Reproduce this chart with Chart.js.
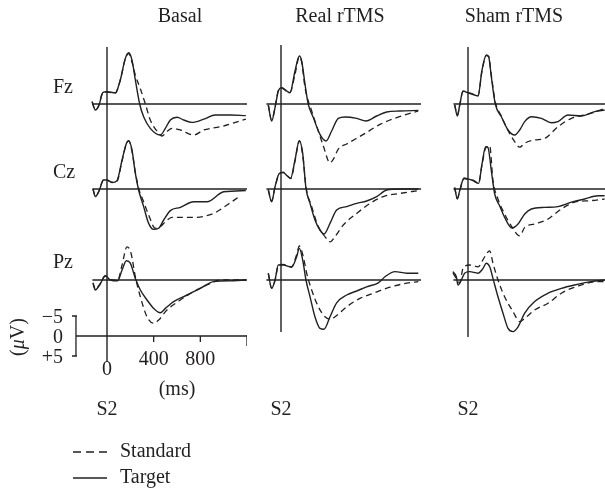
<!DOCTYPE html>
<html><head><meta charset="utf-8">
<script src="https://cdn.jsdelivr.net/npm/chart.js@4.4.0/dist/chart.umd.min.js"></script>
<style>
html,body{margin:0;padding:0;background:#fff;width:605px;height:490px;overflow:hidden;position:relative;}
.t{position:absolute;font-family:"Liberation Serif","Times New Roman",serif;font-size:20px;line-height:20px;color:#231f20;white-space:nowrap;}
canvas{position:absolute;}
</style></head><body>
<canvas id="c0" width="175" height="330" style="left:72px;top:40px"></canvas>
<canvas id="c1" width="175" height="330" style="left:246px;top:40px"></canvas>
<canvas id="c2" width="175" height="330" style="left:433px;top:40px"></canvas>
<svg style="position:absolute;left:0;top:0" width="605" height="490">
  <line x1="73" y1="452" x2="107" y2="452" stroke="#231f20" stroke-width="1.3" stroke-dasharray="8 5"/>
  <line x1="73" y1="478" x2="107" y2="478" stroke="#231f20" stroke-width="1.3"/>
</svg>
<script>
// ---------- data: [time (ms), amplitude (µV)] ----------
const conditions = ['Basal', 'Real rTMS', 'Sham rTMS'];
const electrodes = ['Fz', 'Cz', 'Pz'];
const stimulusLabel = 'S2';
const legendLabels = ['Standard', 'Target'];
const timeTicks = [0, 400, 800];
const uvTicks = [-5, 0, 5];
const uvTickLabels = ['\u22125', '0', '+5'];

const basalFzStd = [[-128,-0.5],[-100,1.4],[-71,0.4],[-34,-3.0],[0,-3.0],[71,-2.7],[114,-6],[157,-11.3],[186,-12.6],[214,-10.5],[243,-7.2],[286,-3.8],[329,0],[371,4],[443,7.3],[471,8],[514,6.9],[557,6.1],[629,6.5],[743,7.75],[829,6.5],[971,5.7],[1190,3.8]];
const basalFzTgt = [[-128,-0.6],[-100,1.5],[-71,0.5],[-34,-2.9],[0,-3.1],[71,-2.8],[114,-6],[157,-11.4],[186,-12.8],[214,-11],[243,-6],[280,0],[314,3.2],[371,6.1],[457,7.75],[500,6.1],[543,4],[600,3.3],[657,4],[729,4.6],[829,3.8],[929,2.75],[1057,2.75],[1190,2.9]];
const basalCzStd = [[-120,0],[-100,1.8],[-71,0.6],[-29,-2.3],[0,-2.2],[43,-1.7],[86,-2.0],[129,-7.0],[166,-11.3],[186,-12.0],[214,-9.5],[243,-4.2],[271,-0.2],[314,3.2],[357,6.5],[414,9.8],[457,9.4],[500,8.2],[557,7.1],[743,7.1],[914,6.1],[1029,4],[1143,1.7]];
const basalCzTgt = [[-120,0],[-100,1.9],[-71,0.7],[-29,-2.25],[0,-2.25],[43,-1.6],[86,-2.1],[129,-7.25],[166,-11.4],[186,-12.1],[214,-9.75],[243,-3.9],[271,0.25],[314,4.4],[357,8.6],[400,10.1],[443,9.8],[486,7.75],[543,5.4],[629,4.6],[743,3.2],[857,3.2],[1000,0.7],[1190,0.4]];
const basalPzStd = [[-120,0.7],[-100,2.3],[-63,1.1],[-14,-1.1],[29,-0.1],[91,0.1],[129,-3.75],[171,-8.3],[206,-6.7],[243,-0.8],[286,4.2],[343,9.2],[400,10.8],[443,10],[514,7.5],[629,5],[743,2.9],[857,1.25],[971,0],[1190,0]];
const basalPzTgt = [[-120,0.8],[-100,2.5],[-63,1.25],[-14,-1],[29,0],[91,0.2],[129,-2.5],[166,-4.8],[200,-4.2],[243,-0.4],[286,2.5],[343,5],[400,7.1],[457,8.2],[500,7.1],[571,5.4],[686,3.75],[800,2.1],[914,0.4],[1086,0.2],[1190,0]];

const realFzStd = [[-109,0.2],[-80,4.0],[-51,0.8],[-23,-3.4],[6,-4.0],[49,-3.1],[77,-2.9],[120,-7.4],[157,-11.8],[177,-10.5],[206,-4.1],[263,1.75],[320,6.75],[363,10.5],[420,14.7],[449,13.8],[491,11.3],[563,10],[706,7.6],[849,5.1],[991,3.4],[1177,1.75]];
const realFzTgt = [[-109,0.25],[-80,4.25],[-51,0.9],[-23,-3.25],[6,-4.1],[49,-3.25],[77,-2.8],[120,-8.25],[157,-12],[177,-10.75],[206,-4.9],[234,0.1],[277,3.4],[334,7.6],[386,9.25],[434,6.75],[491,3.6],[549,3.25],[649,3.6],[729,4.25],[820,3],[906,2],[1020,1.75],[1177,1.6]];
const realCzStd = [[-109,0.2],[-80,3.0],[-51,-0.5],[-14,-3.8],[20,-4.2],[54,-3.3],[83,-2.6],[120,-7.0],[157,-12.0],[186,-8.5],[214,-0.6],[263,4.4],[320,9.4],[377,11.9],[420,13.2],[463,11.9],[534,9],[649,6.1],[763,3.6],[877,1.9],[1020,1.1],[1177,0.4]];
const realCzTgt = [[-109,0.25],[-80,3.2],[-51,-0.6],[-14,-3.9],[20,-4.1],[54,-3.25],[83,-2.7],[120,-7.25],[157,-12.1],[186,-8.9],[214,-0.2],[249,3.6],[291,7.75],[334,10.25],[369,11.25],[420,8.6],[477,5.25],[563,4.4],[649,3.6],[734,3],[820,1.9],[906,0.25],[1020,0],[1177,0]];
const realPzStd = [[-109,-1.6],[-80,2.0],[-51,0.1],[-23,-3.6],[20,-3.9],[91,-3.3],[134,-6.3],[157,-8.5],[191,-5.8],[220,-1.7],[263,2.5],[320,6.7],[377,9.2],[420,9.8],[463,9.2],[563,6.7],[677,4.6],[791,3.3],[934,1.8],[1077,0.8],[1177,0.4]];
const realPzTgt = [[-109,-1.7],[-80,2.1],[-51,0],[-23,-3.75],[20,-3.75],[91,-3.2],[134,-5.8],[157,-7.9],[186,-5],[214,0],[249,4.2],[291,9.2],[334,12.1],[369,12.3],[420,9.2],[477,5.7],[563,3.75],[649,2.75],[734,1.7],[834,0.7],[891,-0.8],[977,-2.1],[1077,-1.7],[1177,-1.7]];

const shamFzStd = [[-114,0.2],[-91,2.8],[-71,0.3],[-43,-3.1],[0,-2.9],[57,-2.4],[86,-2.1],[120,-8.2],[157,-12.1],[177,-11.9],[200,-7.2],[234,-0.5],[286,3.0],[343,6.6],[400,9.4],[443,10.8],[486,9.8],[571,9],[657,8.6],[771,5.7],[886,3.6],[1057,2.3],[1171,1.1]];
const shamFzTgt = [[-114,0.25],[-91,3],[-71,0.25],[-43,-3.25],[0,-2.8],[57,-2.25],[86,-2],[120,-8.5],[157,-12.25],[177,-11.8],[200,-6.8],[234,0],[286,3.2],[343,6.5],[400,7.75],[443,6.5],[486,4.4],[543,3.2],[629,3.6],[714,4.7],[771,4.4],[857,2.75],[971,3],[1086,1.9],[1171,1.5]];
const shamCzStd = [[-114,-0.3],[-91,2.4],[-71,0.5],[-34,-2.6],[0,-2.4],[43,-2.2],[91,-1.5],[120,-6.0],[151,-10.2],[186,-10.8],[214,-2.1],[257,2.5],[314,6.25],[371,9.2],[443,11.7],[486,9.6],[571,8.75],[686,7.5],[800,5],[914,3.3],[1057,2.9],[1171,2.5]];
const shamCzTgt = [[-114,-0.4],[-91,2.5],[-71,0.4],[-34,-2.75],[0,-2.5],[43,-2.1],[91,-1.4],[120,-6.25],[151,-10.6],[171,-10.4],[200,-4.6],[229,1.25],[271,4.2],[314,7.1],[377,9.75],[429,8.75],[486,6.25],[543,5],[657,4.6],[771,4.4],[886,3.3],[1000,2.5],[1114,1.7],[1171,1.7]];
const shamPzStd = [[-129,-1.7],[-100,-0.4],[-71,0.7],[-43,-2.9],[14,-3.75],[86,-3.3],[143,-5.8],[186,-7.3],[214,-4.2],[257,0],[314,4.2],[386,7.9],[443,10.4],[486,9.6],[571,7.5],[686,5.8],[800,3.3],[943,1.5],[1114,0.4],[1171,0.4]];
const shamPzTgt = [[-129,-2.1],[-100,-0.8],[-86,1.25],[-57,0],[-29,-1.7],[14,-2.1],[86,-1.7],[129,-2.9],[157,-4.2],[186,-3.3],[214,-0.4],[257,4.2],[300,8.3],[343,12.1],[386,12.9],[429,11.7],[486,8.3],[571,5.4],[686,3.3],[800,2.1],[914,1.25],[1057,0.4],[1171,0]];

// ---------- layout / style ----------
const INK = '#231f20';
const timeMin = -300, timeMax = 1200, baselineStart = -125;
const canvasH = 330, pxPerUV = 4;
const rowZeroPx = { Fz: 64, Cz: 149, Pz: 240, Bar: 296 };
const canvasLeft = [72, 246, 433], canvasTop = 40;

function yScale(zeroPx) {
  return { type: 'linear', reverse: true, display: false,
           min: -zeroPx / pxPerUV, max: (canvasH - zeroPx) / pxPerUV };
}
function pts(arr) { return arr.map(p => ({ x: p[0], y: p[1] })); }

const columns = [
  { std: [basalFzStd, basalCzStd, basalPzStd], tgt: [basalFzTgt, basalCzTgt, basalPzTgt],
    zeroLine: { top: ['yFz', -14.25], bottom: ['yBar', 6.5] }, bar: true },
  { std: [realFzStd, realCzStd, realPzStd], tgt: [realFzTgt, realCzTgt, realPzTgt],
    zeroLine: { top: ['yFz', -14.75], bottom: ['yPz', 13] }, bar: false },
  { std: [shamFzStd, shamCzStd, shamPzStd], tgt: [shamFzTgt, shamCzTgt, shamPzTgt],
    zeroLine: { top: ['yFz', -14.25], bottom: ['yPz', 14.25] }, bar: false }
];
const scaleBar = { time: -266, end: 1200 };

const framePlugin = {
  id: 'frame',
  beforeDatasetsDraw(chart, args, o) {
    const ctx = chart.ctx, x = chart.scales.x;
    ctx.save();
    ctx.strokeStyle = INK;
    ctx.lineWidth = 1.4;
    electrodes.forEach(e => {
      const y = chart.scales['y' + e].getPixelForValue(0);
      ctx.beginPath();
      ctx.moveTo(x.getPixelForValue(baselineStart), y);
      ctx.lineTo(x.getPixelForValue(timeMax), y);
      ctx.stroke();
    });
    const zl = o.zeroLine;
    const x0 = x.getPixelForValue(0);
    ctx.beginPath();
    ctx.moveTo(x0, chart.scales[zl.top[0]].getPixelForValue(zl.top[1]));
    ctx.lineTo(x0, chart.scales[zl.bottom[0]].getPixelForValue(zl.bottom[1]));
    ctx.stroke();
    if (o.bar) {
      const yb = chart.scales.yBar;
      const xb = x.getPixelForValue(scaleBar.time);
      ctx.lineWidth = 1.3;
      ctx.beginPath();
      ctx.moveTo(xb, yb.getPixelForValue(uvTicks[0]));
      ctx.lineTo(xb, yb.getPixelForValue(uvTicks[2]));
      [uvTicks[0], uvTicks[2]].forEach(v => {
        const yy = yb.getPixelForValue(v);
        ctx.moveTo(xb - 4, yy); ctx.lineTo(xb + 1, yy);
      });
      const y0 = yb.getPixelForValue(0);
      ctx.moveTo(xb, y0); ctx.lineTo(x.getPixelForValue(scaleBar.end), y0);
      timeTicks.slice(1).forEach(t => {
        const xt = x.getPixelForValue(t);
        ctx.moveTo(xt, y0); ctx.lineTo(xt, y0 + 6);
      });
      const xe = x.getPixelForValue(scaleBar.end);
      ctx.moveTo(xe, y0 - 1); ctx.lineTo(xe, y0 + 10);
      ctx.stroke();
    }
    ctx.restore();
  }
};

const charts = columns.map((col, ci) => {
  const scales = { x: { type: 'linear', min: timeMin, max: timeMax, display: false } };
  electrodes.forEach(e => { scales['y' + e] = yScale(rowZeroPx[e]); });
  if (col.bar) scales.yBar = yScale(rowZeroPx.Bar);
  const datasets = [];
  electrodes.forEach((e, ri) => {
    datasets.push({ label: e + ' ' + legendLabels[0], data: pts(col.std[ri]), yAxisID: 'y' + e,
      borderColor: INK, borderWidth: 1.3, borderDash: [6, 4], pointRadius: 0,
      cubicInterpolationMode: 'monotone', fill: false });
    datasets.push({ label: e + ' ' + legendLabels[1], data: pts(col.tgt[ri]), yAxisID: 'y' + e,
      borderColor: INK, borderWidth: 1.4, pointRadius: 0,
      cubicInterpolationMode: 'monotone', fill: false });
  });
  return new Chart(document.getElementById('c' + ci), {
    type: 'line',
    data: { datasets },
    options: {
      responsive: false, devicePixelRatio: 1, animation: false,
      layout: { padding: 0 },
      scales,
      plugins: { legend: { display: false }, tooltip: { enabled: false },
                 frame: { zeroLine: col.zeroLine, bar: col.bar } }
    },
    plugins: [framePlugin]
  });
});

// ---------- text ----------
function txt(s, x, baseline, align, html) {
  const d = document.createElement('div');
  d.className = 't';
  if (html) d.innerHTML = s; else d.textContent = s;
  d.style.top = (baseline - 16.75) + 'px';
  if (align === 'center') { d.style.left = x + 'px'; d.style.transform = 'translateX(-50%)'; }
  else if (align === 'right') { d.style.right = (605 - x) + 'px'; }
  else d.style.left = x + 'px';
  document.body.appendChild(d);
  return d;
}
const titleX = [180, 340, 514];
conditions.forEach((c, i) => txt(c, titleX[i], 22, 'center'));
const rowLabelBase = [93, 178, 268];
electrodes.forEach((e, i) => txt(e, 53, rowLabelBase[i], 'left'));
charts.forEach((ch, i) => {
  const x0 = canvasLeft[i] + ch.scales.x.getPixelForValue(0);
  txt(stimulusLabel, x0, 415, 'center');
});
const cb = charts[0];
timeTicks.forEach(t => {
  const xx = canvasLeft[0] + cb.scales.x.getPixelForValue(t);
  txt(String(t), xx, t === 0 ? 375 : 365, 'center');
});
txt('(ms)', canvasLeft[0] + cb.scales.x.getPixelForValue(600), 395, 'center');
uvTicks.forEach((v, i) => {
  const yy = canvasTop + cb.scales.yBar.getPixelForValue(v);
  txt(uvTickLabels[i], 63, yy + 6.5, 'right');
});
const uv = txt('(<i>\u03bc</i>V)', 0, 0, 'left', true);
uv.style.left = '17px'; uv.style.top = '337px';
uv.style.transform = 'translate(-50%,-50%) rotate(-90deg)';
txt(legendLabels[0], 120, 457, 'left');
txt(legendLabels[1], 120, 483, 'left');
</script>
</body></html>
